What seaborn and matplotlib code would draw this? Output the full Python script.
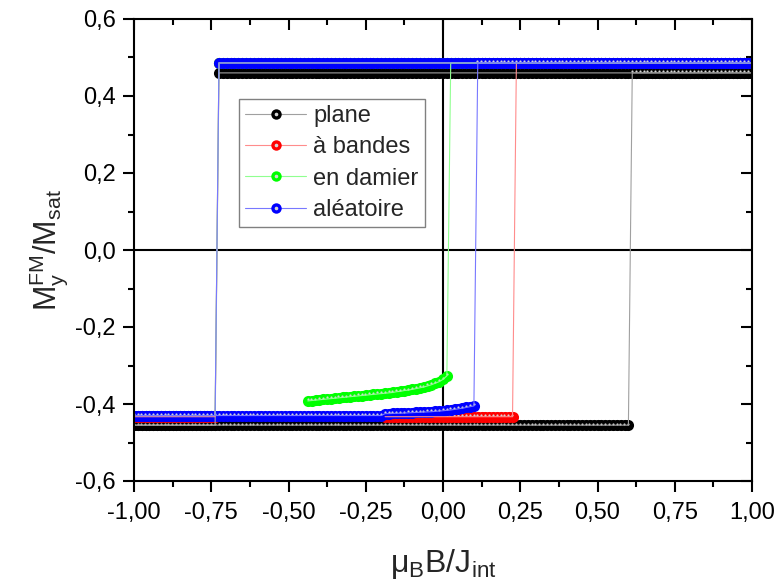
import numpy as np
import matplotlib
matplotlib.use("Agg")
import matplotlib.pyplot as plt
import seaborn as sns
from matplotlib.lines import Line2D
from matplotlib.legend_handler import HandlerTuple
from matplotlib.ticker import MultipleLocator, FuncFormatter

# field sweep step of the simulation (mu_B B / J_int)
STEP = 0.0125

labels = ["plane", "à bandes", "en damier", "aléatoire"]
colors = ["#000000", "#ff0000", "#00ff00", "#0000ff"]
line_colors = ["#a0a0a0", "#ff8c8c", "#90ff90", "#7878ff"]

# plateau levels of M_y^FM / M_sat
m_upper = [0.460, 0.486, 0.486, 0.486]
m_lower = [-0.455, -0.433, -0.430, -0.430]
# switching fields: descending sweep (last lower point) / ascending sweep (first upper point)
h_down = [-0.7375, -0.7375, -0.7375, -0.7375]
h_up = [0.6125, 0.2375, 0.025, 0.1125]
# first field of the ascending sweep
h_start = [-1.0, -0.1875, -0.4375, -1.0]

# curved end of the ascending lower branch
green_curve = [-0.392, -0.391, -0.390, -0.389, -0.388, -0.387, -0.386, -0.385,
               -0.384, -0.383, -0.382, -0.381, -0.380, -0.379, -0.378, -0.377,
               -0.376, -0.375, -0.374, -0.373, -0.372, -0.371, -0.370, -0.368,
               -0.367, -0.365, -0.364, -0.362, -0.360, -0.358, -0.356, -0.353,
               -0.350, -0.346, -0.342, -0.336, -0.327]
blue_tail = [-0.425, -0.425, -0.4245, -0.424, -0.424, -0.4235, -0.423, -0.4225,
             -0.422, -0.4215, -0.421, -0.4205, -0.420, -0.4192, -0.4185, -0.4175,
             -0.4165, -0.4155, -0.414, -0.4125, -0.411, -0.409, -0.407, -0.405]
tail_start = [None, None, -0.4375, -0.1875]
tails = [[], [], green_curve, blue_tail]


def grid(a, b):
    return np.round(np.arange(a, b + STEP / 2, STEP), 4)


def descending(i):
    xu = grid(h_down[i] + STEP, 1.0)[::-1]
    xl = grid(-1.0, h_down[i])[::-1]
    x = np.concatenate([xu, xl])
    y = np.concatenate([np.full(len(xu), m_upper[i]), np.full(len(xl), m_lower[i])])
    return x, y


def ascending(i):
    xs, ys = [], []
    end_const = (tail_start[i] if tail_start[i] is not None else h_up[i]) - STEP
    if h_start[i] <= end_const:
        xc = grid(h_start[i], end_const)
        xs.append(xc)
        ys.append(np.full(len(xc), m_lower[i]))
    if tails[i]:
        xt = grid(tail_start[i], tail_start[i] + STEP * (len(tails[i]) - 1))
        xs.append(xt)
        ys.append(np.array(tails[i]))
    xu = grid(h_up[i], 1.0)
    xs.append(xu)
    ys.append(np.full(len(xu), m_upper[i]))
    return np.concatenate(xs), np.concatenate(ys)


sns.set_theme(style="ticks")
plt.rcParams["font.family"] = ["Liberation Sans", "DejaVu Sans"]
plt.rcParams["mathtext.fontset"] = "custom"
plt.rcParams["mathtext.rm"] = "Liberation Sans"
plt.rcParams["mathtext.it"] = "Liberation Sans:italic"

fig, ax = plt.subplots(figsize=(7.81, 5.87), dpi=100)
fig.subplots_adjust(left=134 / 781, right=752 / 781, top=1 - 19 / 587, bottom=1 - 481 / 587)

ax.axhline(0, color="black", lw=1.5, zorder=1)
ax.axvline(0, color="black", lw=1.5, zorder=1)

MS = 64
HL = "#d4d4d4"
for i in range(4):
    xd, yd = descending(i)
    xa, ya = ascending(i)
    # descending sweep first (solid), then ascending sweep with highlights
    sns.lineplot(x=xd, y=yd, sort=False, estimator=None, color=line_colors[i], lw=0.8, ax=ax)
    sns.scatterplot(x=xd, y=yd, color=colors[i], s=MS, linewidth=0, ax=ax)
    sns.lineplot(x=xa, y=ya, sort=False, estimator=None, color=line_colors[i], lw=0.8, ax=ax)
    sns.scatterplot(x=xa, y=ya, color=colors[i], s=MS, linewidth=0, ax=ax)
    sns.scatterplot(x=xa - 0.001, y=ya + 0.004, color=HL, s=2.5, linewidth=0, ax=ax)

ax.set_xlim(-1, 1)
ax.set_ylim(-0.6, 0.6)
ax.xaxis.set_major_locator(MultipleLocator(0.25))
ax.xaxis.set_minor_locator(MultipleLocator(0.125))
ax.yaxis.set_major_locator(MultipleLocator(0.2))
ax.yaxis.set_minor_locator(MultipleLocator(0.1))
ax.xaxis.set_major_formatter(FuncFormatter(lambda v, p: f"{v + 0:.2f}".replace(".", ",")))
ax.yaxis.set_major_formatter(FuncFormatter(lambda v, p: f"{round(v, 2) + 0:.1f}".replace(".", ",")))

for s in ax.spines.values():
    s.set_linewidth(1.5)
    s.set_color("black")
ax.tick_params(which="both", top=True, right=True, width=1.5, colors="black")
ax.tick_params(axis="x", labelsize=17, pad=7)
ax.tick_params(axis="y", labelsize=17, pad=5)
ax.tick_params(which="both", direction="out")
ax.tick_params(which="major", length=8)
ax.tick_params(which="minor", length=4)
# top / right ticks point inward
for t in ax.xaxis.get_major_ticks() + ax.xaxis.get_minor_ticks():
    t.tick2line.set_marker(3)
for t in ax.yaxis.get_major_ticks() + ax.yaxis.get_minor_ticks():
    t.tick2line.set_marker(0)

ax.set_xlabel("μ$_{\\mathrm{B}}$B/J$_{\\mathrm{int}}$", fontsize=23, labelpad=17)
ax.set_ylabel(r"M$_{\mathrm{y}}^{\mathrm{FM}}$/M$_{\mathrm{sat}}$", fontsize=22, labelpad=4)

handles = []
for i in range(4):
    h1 = Line2D([], [], color=line_colors[i], lw=0.8, marker="o", markersize=7.5,
                markerfacecolor=colors[i], markeredgewidth=0)
    h2 = Line2D([], [], ls="none", marker="o", markersize=1.6, color=HL)
    handles.append((h1, h2))
leg = ax.legend(handles, labels, handler_map={tuple: HandlerTuple(ndivide=1)},
                loc="upper left", bbox_to_anchor=(0.170, 0.827), borderaxespad=0,
                fontsize=17, fancybox=False, framealpha=1, edgecolor="#808080",
                handlelength=2.6, labelspacing=0.4, borderpad=0.25, handletextpad=0.3)
leg.get_frame().set_linewidth(1.0)

plt.savefig("out.png", dpi=100)
plt.close()
